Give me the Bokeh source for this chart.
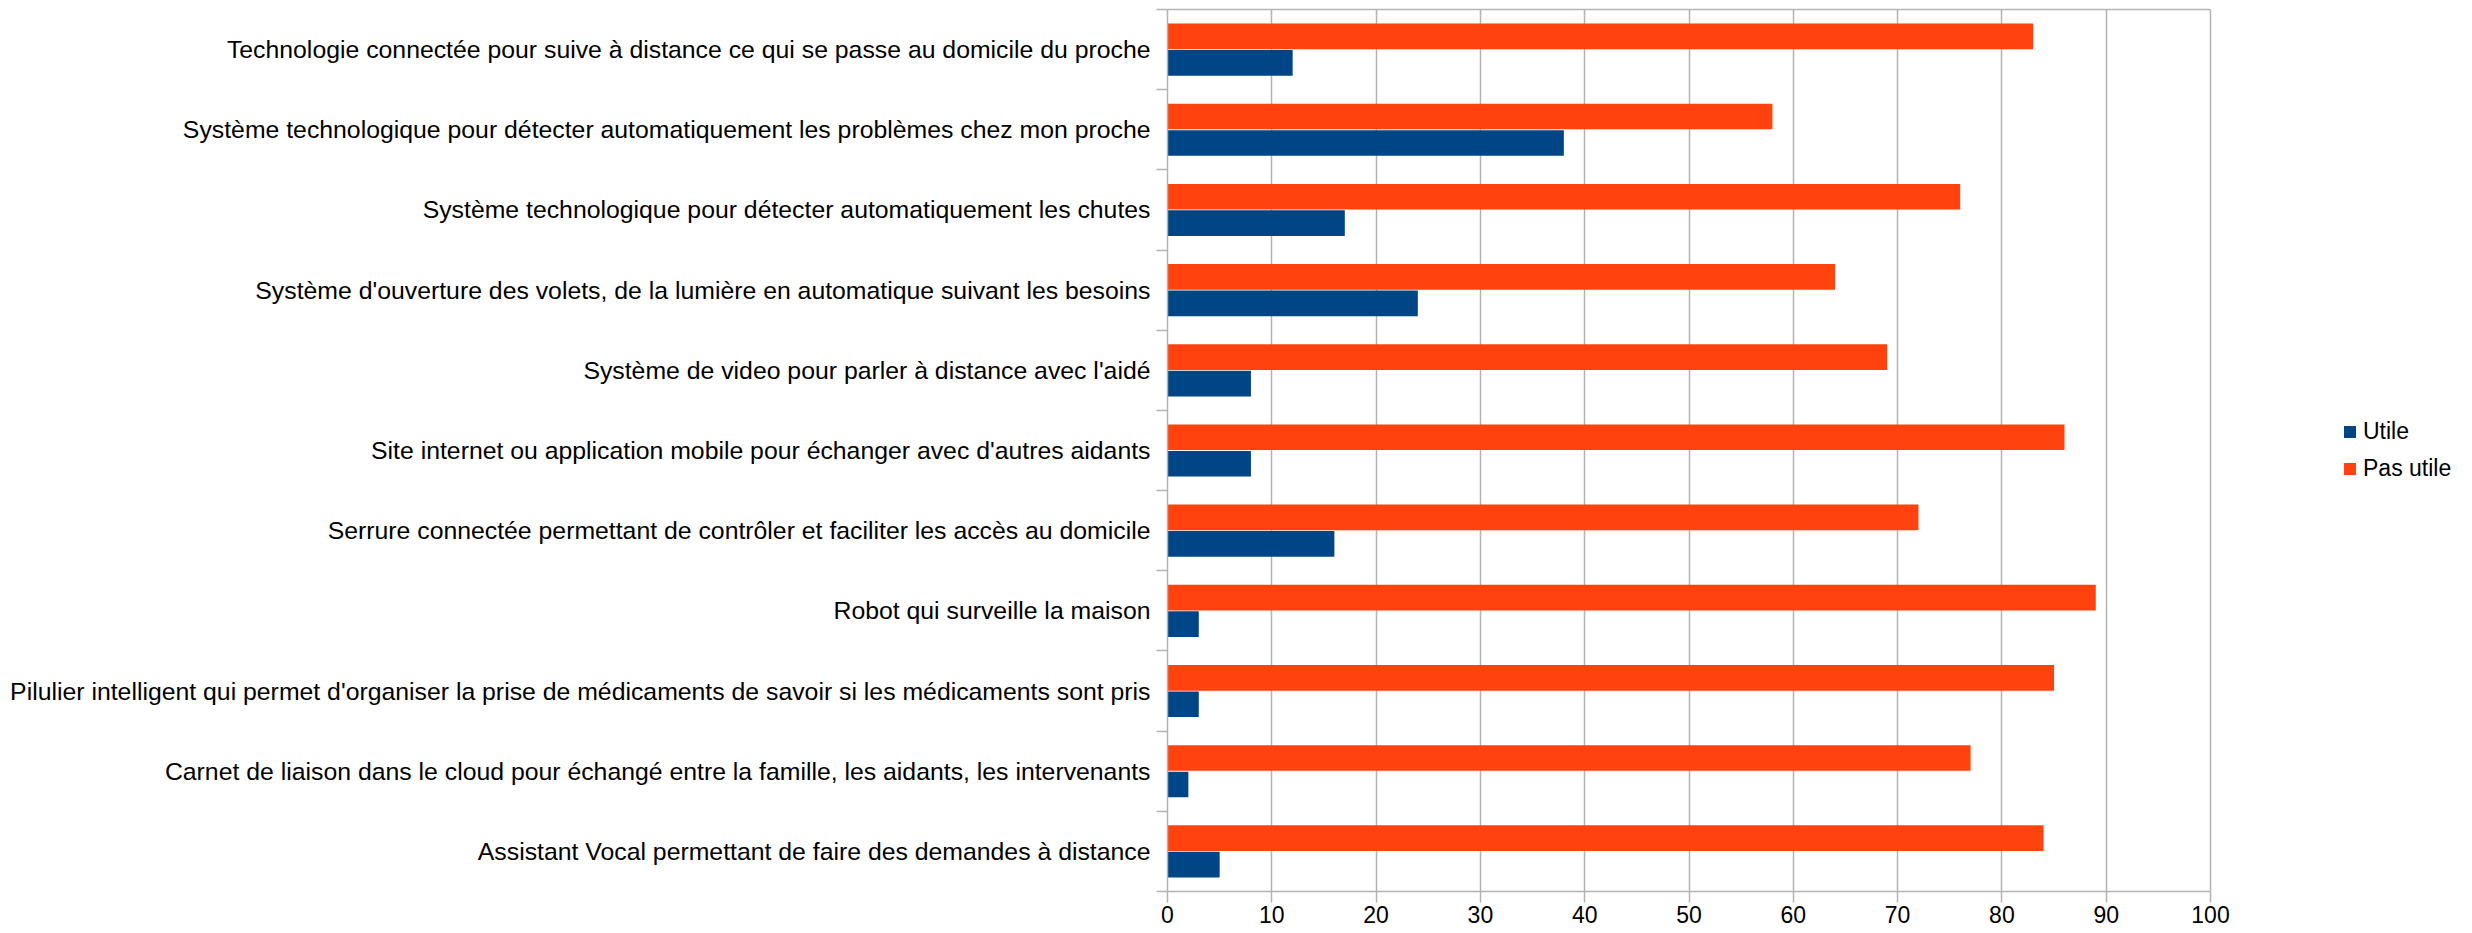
from bokeh.plotting import figure
from bokeh.models import (Range1d, LinearAxis, FixedTicker,
                          Legend, LegendItem, ColumnDataSource, CustomJSTickFormatter)
from bokeh.embed import file_html
from bokeh.resources import INLINE

# ---- data (top to bottom as in the chart) ----
categories = [
    "Technologie connectée pour suive à distance ce qui se passe au domicile du proche",
    "Système technologique pour détecter automatiquement les problèmes chez mon proche",
    "Système technologique pour détecter automatiquement les chutes",
    "Système d'ouverture des volets, de la lumière en automatique suivant les besoins",
    "Système de video pour parler à distance avec l'aidé",
    "Site internet ou application mobile pour échanger avec d'autres aidants",
    "Serrure connectée permettant de contrôler et faciliter les accès au domicile",
    "Robot qui surveille la maison",
    "Pilulier intelligent qui permet d'organiser la prise de médicaments de savoir si les médicaments sont pris",
    "Carnet de liaison dans le cloud pour échangé entre la famille, les aidants, les intervenants",
    "Assistant Vocal permettant de faire des demandes à distance",
]
utile = [12, 38, 17, 24, 8, 8, 16, 3, 3, 2, 5]
pas_utile = [83, 58, 76, 64, 69, 86, 72, 89, 85, 77, 84]
series_names = ["Utile", "Pas utile"]
series_colors = ["#004586", "#ff420e"]
x_ticks = [0, 10, 20, 30, 40, 50, 60, 70, 80, 90, 100]

GRAY = "#b3b3b3"
FONT = "Liberation Sans"
OFFSET = 0.165   # half-distance between the two bars of a group
BAR_H = 0.32

# layout (pixels)
FIG_W, FIG_H = 2472, 933
LEFT = 1167          # left edge of the plotting area
AXIS_W = 1043        # width used by the 0..100 axis
X_MAX = x_ticks[-1]
x_view_end = X_MAX * (FIG_W - LEFT) / AXIS_W   # frame extends to the right for the legend

n = len(categories)
centers = [n - i - 0.5 for i in range(n)]          # category slots, first at top
source = ColumnDataSource(data=dict(
    cat=categories,
    y_u=[c - OFFSET for c in centers],
    y_p=[c + OFFSET for c in centers],
    utile=utile, pas_utile=pas_utile))

p = figure(width=FIG_W, height=FIG_H,
           y_range=Range1d(0, n),
           x_range=Range1d(0, x_view_end),
           output_backend="svg", toolbar_location=None,
           x_axis_location="below", y_axis_location=None,
           min_border_left=LEFT, min_border_right=0,
           min_border_top=9, min_border_bottom=42)

p.background_fill_color = "white"
p.border_fill_color = "white"
p.outline_line_color = None

# x axis (bottom)
xa = p.xaxis[0]
xa.bounds = (0, X_MAX)
xa.ticker = FixedTicker(ticks=x_ticks)
xa.major_tick_out = 11
xa.major_tick_in = 0
xa.minor_tick_out = 0
xa.minor_tick_in = 0
xa.axis_line_color = GRAY
xa.axis_line_width = 1.5
xa.major_tick_line_color = GRAY
xa.major_tick_line_width = 1.5
xa.major_label_standoff = 3
xa.major_label_text_font = FONT
xa.major_label_text_font_size = "23px"
xa.major_label_text_color = "#000000"

# top border line of the plotting area
top_axis = LinearAxis(bounds=(0, X_MAX), ticker=FixedTicker(ticks=[]),
                      major_tick_out=0, major_tick_in=0, minor_tick_out=0, minor_tick_in=0,
                      major_label_standoff=0, major_label_text_font_size="0px",
                      axis_line_color=GRAY, axis_line_width=1.5)
p.add_layout(top_axis, "above")

p.xgrid.ticker = FixedTicker(ticks=x_ticks)
p.xgrid.grid_line_color = GRAY
p.xgrid.grid_line_width = 1.5
p.ygrid.visible = False

# left: boundary ticks between categories (no labels)
tick_axis = LinearAxis(ticker=FixedTicker(ticks=list(range(n + 1))),
                       formatter=CustomJSTickFormatter(code="return ''"),
                       major_tick_out=11, major_tick_in=0,
                       minor_tick_out=0, minor_tick_in=0,
                       major_label_standoff=0,
                       axis_line_color=GRAY, axis_line_width=1.5,
                       major_tick_line_color=GRAY, major_tick_line_width=1.5)
p.add_layout(tick_axis, "left")

# left: category labels at slot centres
cat_axis = LinearAxis(ticker=FixedTicker(ticks=centers),
                      major_label_overrides={c: lab for c, lab in zip(centers, categories)},
                      major_tick_out=0, major_tick_in=0,
                      minor_tick_out=0, minor_tick_in=0,
                      axis_line_color=None,
                      major_label_standoff=6,
                      major_label_text_font=FONT,
                      major_label_text_font_size="24.8px",
                      major_label_text_color="#000000")
p.add_layout(cat_axis, "left")

r1 = p.hbar(y="y_u", left=0, right="utile", height=BAR_H,
            color=series_colors[0], line_color=None, source=source)
r2 = p.hbar(y="y_p", left=0, right="pas_utile", height=BAR_H,
            color=series_colors[1], line_color=None, source=source)

legend = Legend(items=[LegendItem(label=series_names[0], renderers=[r1]),
                       LegendItem(label=series_names[1], renderers=[r2])],
                location=(1175, 409),
                glyph_width=15, glyph_height=15, label_standoff=6,
                label_text_font=FONT, label_text_font_size="23px",
                label_text_color="#000000",
                padding=0, margin=0, spacing=10,
                border_line_color=None, background_fill_alpha=0)
p.add_layout(legend)

open("out.html", "w").write(file_html(p, INLINE))
